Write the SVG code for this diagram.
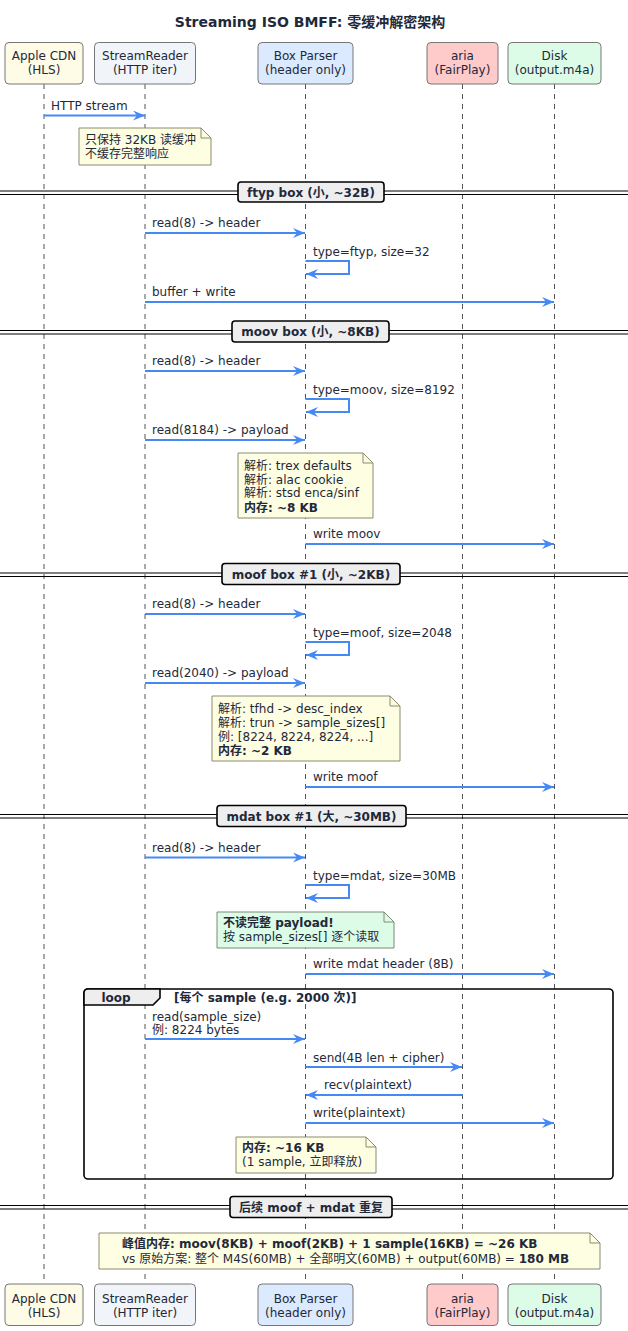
<svg xmlns="http://www.w3.org/2000/svg" width="628" height="1331" viewBox="0 0 628 1331">
<style>
text{font-family:"DejaVu Sans","Noto Sans CJK SC",sans-serif;font-size:12px;fill:#1e293b}
.b{font-weight:bold}
.t{font-size:14px;font-weight:bold}
.mid{text-anchor:middle}
.pbox{stroke:#777;stroke-width:1}
.life{stroke:#555;stroke-width:1;stroke-dasharray:5,5;fill:none}
.msg{stroke:#4589f5;stroke-width:2;fill:none;marker-end:url(#ah)}
.note{fill:#fefee2;stroke:#8a8a70;stroke-width:1}
.gnote{fill:#dcfce7;stroke:#7a8a7a;stroke-width:1}
.fold{fill:none;stroke:#8a8a70;stroke-width:1}
.dl{stroke:#000;stroke-width:1.2}
.dbox{fill:#eeeeee;stroke:#000;stroke-width:1.6}
.frame{fill:none;stroke:#000;stroke-width:1.6}
</style>
<defs>
<marker id="ah" viewBox="0 0 12 10" refX="12" refY="5" markerWidth="12" markerHeight="10" markerUnits="userSpaceOnUse" orient="auto">
<path d="M0,0 L12,5 L0,10 L4,5 Z" fill="#4589f5"/>
</marker>
</defs>
<rect width="628" height="1331" fill="#ffffff"/>
<text class="t mid" x="310" y="27">Streaming ISO BMFF: 零缓冲解密架构</text>

<g id="lifelines">
<line class="life" x1="44" y1="84" x2="44" y2="1284"/>
<line class="life" x1="145" y1="84" x2="145" y2="1284"/>
<line class="life" x1="305.5" y1="84" x2="305.5" y2="1284"/>
<line class="life" x1="462.5" y1="84" x2="462.5" y2="1284"/>
<line class="life" x1="554.5" y1="84" x2="554.5" y2="1284"/>
</g>

<g id="apple-cdn">
<rect class="pbox" x="5" y="42.5" width="78" height="41.5" rx="4" fill="#fefbe6"/>
<text class="mid" x="44" y="60">Apple CDN</text><text class="mid" x="44" y="74">(HLS)</text>
<rect class="pbox" x="5" y="1284" width="78" height="41.5" rx="4" fill="#fefbe6"/>
<text class="mid" x="44" y="1303">Apple CDN</text><text class="mid" x="44" y="1317">(HLS)</text>
</g>
<g id="stream-reader">
<rect class="pbox" x="94.5" y="42.5" width="101" height="41.5" rx="4" fill="#f1f5f9"/>
<text class="mid" x="145" y="60">StreamReader</text><text class="mid" x="145" y="74">(HTTP iter)</text>
<rect class="pbox" x="94.5" y="1284" width="101" height="41.5" rx="4" fill="#f1f5f9"/>
<text class="mid" x="145" y="1303">StreamReader</text><text class="mid" x="145" y="1317">(HTTP iter)</text>
</g>
<g id="box-parser">
<rect class="pbox" x="258" y="42.5" width="95" height="41.5" rx="4" fill="#dbeafe"/>
<text class="mid" x="305.5" y="60">Box Parser</text><text class="mid" x="305.5" y="74">(header only)</text>
<rect class="pbox" x="258" y="1284" width="95" height="41.5" rx="4" fill="#dbeafe"/>
<text class="mid" x="305.5" y="1303">Box Parser</text><text class="mid" x="305.5" y="1317">(header only)</text>
</g>
<g id="aria">
<rect class="pbox" x="427" y="42.5" width="71" height="41.5" rx="4" fill="#ffcaca"/>
<text class="mid" x="462.5" y="60">aria</text><text class="mid" x="462.5" y="74">(FairPlay)</text>
<rect class="pbox" x="427" y="1284" width="71" height="41.5" rx="4" fill="#ffcaca"/>
<text class="mid" x="462.5" y="1303">aria</text><text class="mid" x="462.5" y="1317">(FairPlay)</text>
</g>
<g id="disk">
<rect class="pbox" x="508" y="42.5" width="93" height="41.5" rx="4" fill="#dcfce7"/>
<text class="mid" x="554.5" y="60">Disk</text><text class="mid" x="554.5" y="74">(output.m4a)</text>
<rect class="pbox" x="508" y="1284" width="93" height="41.5" rx="4" fill="#dcfce7"/>
<text class="mid" x="554.5" y="1303">Disk</text><text class="mid" x="554.5" y="1317">(output.m4a)</text>
</g>

<g id="divider-ftyp">
<line class="dl" x1="0" y1="191" x2="628" y2="191"/><line class="dl" x1="0" y1="194.5" x2="628" y2="194.5"/>
<rect class="dbox" x="238" y="182" width="146" height="20" rx="3"/>
<text class="b mid" x="311" y="196.5">ftyp box (小, ~32B)</text>
</g>
<g id="divider-moov">
<line class="dl" x1="0" y1="330.5" x2="628" y2="330.5"/><line class="dl" x1="0" y1="334" x2="628" y2="334"/>
<rect class="dbox" x="232" y="321" width="157" height="21" rx="3"/>
<text class="b mid" x="310.5" y="336">moov box (小, ~8KB)</text>
</g>
<g id="divider-moof">
<line class="dl" x1="0" y1="573" x2="628" y2="573"/><line class="dl" x1="0" y1="576.5" x2="628" y2="576.5"/>
<rect class="dbox" x="222" y="563.5" width="178" height="21" rx="3"/>
<text class="b mid" x="311" y="578.5">moof box #1 (小, ~2KB)</text>
</g>
<g id="divider-mdat">
<line class="dl" x1="0" y1="814.5" x2="628" y2="814.5"/><line class="dl" x1="0" y1="818" x2="628" y2="818"/>
<rect class="dbox" x="217" y="805.5" width="189" height="21" rx="3"/>
<text class="b mid" x="311.5" y="820.5">mdat box #1 (大, ~30MB)</text>
</g>
<g id="divider-repeat">
<line class="dl" x1="0" y1="1205.5" x2="628" y2="1205.5"/><line class="dl" x1="0" y1="1209" x2="628" y2="1209"/>
<rect class="dbox" x="230" y="1196.5" width="162" height="21" rx="3"/>
<text class="b mid" x="311" y="1211.5">后续 moof + mdat 重复</text>
</g>

<g id="loop">
<rect class="frame" x="84" y="989" width="529" height="190" rx="4"/>
<path d="M84,1005 V993 Q84,989 88,989 H160 V998 L153,1005 Z" fill="#eeeeee" stroke="#000" stroke-width="1.6"/>
<text class="b mid" x="116" y="1001.5">loop</text>
<text class="b" x="174" y="1002">[每个 sample (e.g. 2000 次)]</text>
</g>

<g id="note-buffer">
<path class="note" d="M79,128 H201 L211,138 V165 H79 Z"/><path class="fold" d="M201,128 V138 H211"/>
<text x="85" y="144">只保持 32KB 读缓冲</text><text x="85" y="158">不缓存完整响应</text>
</g>
<g id="note-moov">
<path class="note" d="M238,453 H363 L373,463 V518 H238 Z"/><path class="fold" d="M363,453 V463 H373"/>
<text x="244" y="470">解析: trex defaults</text>
<text x="244" y="484">解析: alac cookie</text>
<text x="244" y="497">解析: stsd enca/sinf</text>
<text class="b" x="244" y="512">内存: ~8 KB</text>
</g>
<g id="note-moof">
<path class="note" d="M212,696 H390 L400,706 V761 H212 Z"/><path class="fold" d="M390,696 V706 H400"/>
<text x="218" y="713">解析: tfhd -&gt; desc_index</text>
<text x="218" y="727">解析: trun -&gt; sample_sizes[]</text>
<text x="218" y="741">例: [8224, 8224, 8224, ...]</text>
<text class="b" x="218" y="755">内存: ~2 KB</text>
</g>
<g id="note-mdat">
<path class="gnote" d="M217,912 H384 L394,922 V948 H217 Z"/><path class="fold" d="M384,912 V922 H394"/>
<text class="b" x="223" y="927">不读完整 payload!</text>
<text x="223" y="941">按 sample_sizes[] 逐个读取</text>
</g>
<g id="note-sample">
<path class="note" d="M236,1137 H366 L376,1147 V1173 H236 Z"/><path class="fold" d="M366,1137 V1147 H376"/>
<text class="b" x="242" y="1152">内存: ~16 KB</text>
<text x="242" y="1166">(1 sample, 立即释放)</text>
</g>
<g id="note-peak">
<path class="note" d="M99,1233 H590 L600,1243 V1269 H99 Z"/><path class="fold" d="M590,1233 V1243 H600"/>
<text class="b" x="122" y="1248">峰值内存: moov(8KB) + moof(2KB) + 1 sample(16KB) = ~26 KB</text>
<text x="122" y="1263">vs 原始方案: 整个 M4S(60MB) + 全部明文(60MB) + output(60MB) = <tspan class="b">180 MB</tspan></text>
</g>

<g id="connectors">
<line class="msg" x1="44" y1="115.5" x2="145" y2="115.5"/>
<text x="51" y="110">HTTP stream</text>

<line class="msg" x1="145" y1="233" x2="305" y2="233"/>
<text x="152" y="227">read(8) -&gt; header</text>
<path class="msg" d="M305.5,261 H349 V274 H306"/>
<text x="313" y="256">type=ftyp, size=32</text>
<line class="msg" x1="145" y1="302" x2="554" y2="302"/>
<text x="152" y="296">buffer + write</text>

<line class="msg" x1="145" y1="371" x2="305" y2="371"/>
<text x="152" y="365">read(8) -&gt; header</text>
<path class="msg" d="M305.5,399 H349 V412 H306"/>
<text x="313" y="394">type=moov, size=8192</text>
<line class="msg" x1="145" y1="440" x2="305" y2="440"/>
<text x="152" y="434">read(8184) -&gt; payload</text>
<line class="msg" x1="305.5" y1="544" x2="554" y2="544"/>
<text x="313" y="538">write moov</text>

<line class="msg" x1="145" y1="614" x2="305" y2="614"/>
<text x="152" y="608">read(8) -&gt; header</text>
<path class="msg" d="M305.5,642 H349 V655 H306"/>
<text x="313" y="637">type=moof, size=2048</text>
<line class="msg" x1="145" y1="683" x2="305" y2="683"/>
<text x="152" y="677">read(2040) -&gt; payload</text>
<line class="msg" x1="305.5" y1="787" x2="554" y2="787"/>
<text x="313" y="781">write moof</text>

<line class="msg" x1="145" y1="857.5" x2="305" y2="857.5"/>
<text x="152" y="851.5">read(8) -&gt; header</text>
<path class="msg" d="M305.5,885 H349 V898 H306"/>
<text x="313" y="880">type=mdat, size=30MB</text>
<line class="msg" x1="305.5" y1="974" x2="554" y2="974"/>
<text x="313" y="968">write mdat header (8B)</text>

<line class="msg" x1="145" y1="1039" x2="305" y2="1039"/>
<text x="152" y="1021">read(sample_size)</text>
<text x="152" y="1034">例: 8224 bytes</text>
<line class="msg" x1="305.5" y1="1067" x2="462" y2="1067"/>
<text x="313" y="1062">send(4B len + cipher)</text>
<line class="msg" x1="462.5" y1="1095" x2="306" y2="1095"/>
<text x="324" y="1089">recv(plaintext)</text>
<line class="msg" x1="305.5" y1="1123" x2="554" y2="1123"/>
<text x="313" y="1117">write(plaintext)</text>
</g>
</svg>
